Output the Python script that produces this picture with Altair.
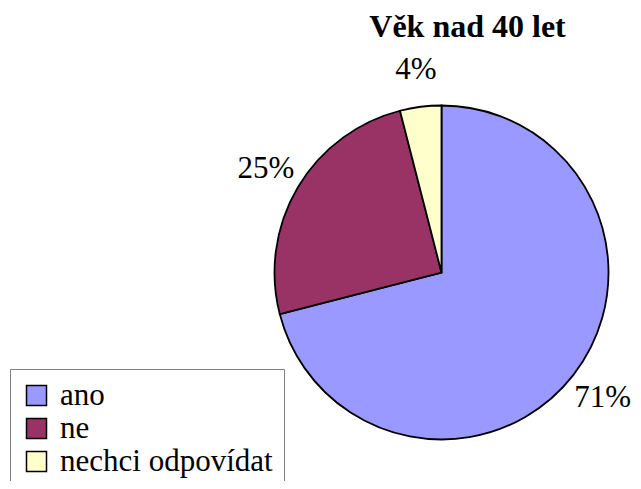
import altair as alt
import pandas as pd

categories = ["ano", "ne", "nechci odpovídat"]
values = [71, 25, 4]
labels = ["71%", "25%", "4%"]
colors = ["#9999FF", "#993366", "#FFFFCC"]
title_text = "Věk nad 40 let"

df = pd.DataFrame({"cat": categories, "value": values, "label": labels, "idx": list(range(len(categories)))})

FONT = "Liberation Serif"
W, H = 625, 473
CX, CY = 433.5, 264.5
R = 167

color = alt.Color("cat:N", scale=alt.Scale(domain=categories, range=colors),
                  sort=categories,
                  legend=alt.Legend(orient="none", legendX=2, legendY=361, title=None,
                                    symbolType="square", symbolSize=400,
                                    symbolStrokeColor="black", symbolStrokeWidth=1.5,
                                    symbolOpacity=1,
                                    labelFont=FONT, labelFontSize=31,
                                    labelColor="black", labelLimit=400, labelOffset=8,
                                    rowPadding=1, padding=11,
                                    strokeColor="#808080", fillColor="white"))

base = alt.Chart(df).encode(
    theta=alt.Theta("value:Q", stack=True),
    order=alt.Order("idx:Q"),
)

pie = base.mark_arc(radius=R, stroke="black", strokeWidth=1.8, opacity=1).encode(
    color=color,
    x=alt.value(CX), y=alt.value(CY),
)

text = base.mark_text(radius=204, font=FONT, fontSize=31, color="black",
                      baseline="middle", align="center").encode(
    text="label:N",
    x=alt.value(CX), y=alt.value(CY),
)

title = alt.Chart(pd.DataFrame({"t": [title_text]})).mark_text(
    font=FONT, fontSize=32, fontWeight="bold", color="black",
    baseline="alphabetic", align="center").encode(
    text="t:N", x=alt.value(459.5), y=alt.value(29))

chart = alt.layer(pie, text, title).properties(
    width=W, height=H, padding=0, autosize=alt.AutoSizeParams(type="none")
).configure_view(stroke=None)

chart.save("out.html", embed_options={"renderer": "svg", "actions": False})
